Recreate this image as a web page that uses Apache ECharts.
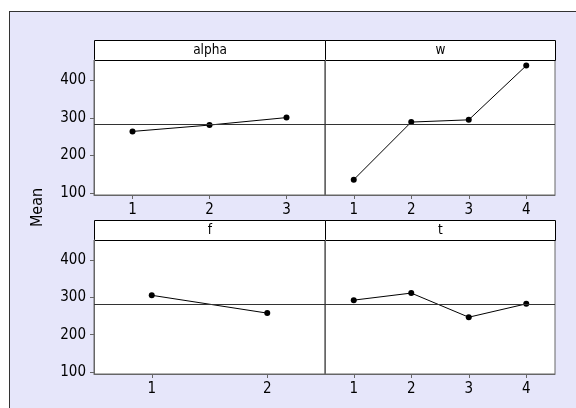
<!DOCTYPE html>
<html>
<head>
<meta charset="utf-8">
<script src="https://cdn.jsdelivr.net/npm/echarts@6/dist/echarts.min.js"></script>
<style>
html,body{margin:0;padding:0;background:#fff;overflow:hidden;}
#wrap{position:relative;width:576px;height:408px;overflow:hidden;background:#fff;}
#bg{position:absolute;left:9px;top:11px;width:620px;height:450px;background:#e6e6fa;border:1px solid #333;box-sizing:border-box;}
#chart{position:absolute;left:0;top:0;width:576px;height:408px;}
</style>
</head>
<body>
<div id="wrap"><div id="bg"></div><div id="chart"></div></div>
<script>
// ---- data ----
const panelTitles = ['alpha', 'w', 'f', 't'];
const alphaLevels = ['1', '2', '3'];
const alphaMeans = [264, 281, 301];
const wLevels = ['1', '2', '3', '4'];
const wMeans = [135, 289, 295, 440];
const fLevels = ['1', '2'];
const fMeans = [306, 258];
const tLevels = ['1', '2', '3', '4'];
const tMeans = [293, 312, 247, 283];
const grandMean = 282;
const yTickValues = [100, 200, 300, 400];
const yAxisTitle = 'Mean';

// ---- layout ----
const FONT = '"DejaVu Sans Condensed", "DejaVu Sans", sans-serif';
const panels = [
  {levels: alphaLevels, means: alphaMeans, left: 94, top: 60, width: 231, height: 135, showY: true},
  {levels: wLevels, means: wMeans, left: 325, top: 60, width: 230, height: 135, showY: false},
  {levels: fLevels, means: fMeans, left: 94, top: 240, width: 231, height: 134, showY: true},
  {levels: tLevels, means: tMeans, left: 325, top: 240, width: 230, height: 134, showY: false}
];

const grids = [], xAxes = [], yAxes = [], series = [], graphics = [];
panels.forEach((p, i) => {
  grids.push({left: p.left, top: p.top, width: p.width, height: p.height,
    show: true, backgroundColor: '#fff', borderColor: '#666', borderWidth: 1});
  xAxes.push({type: 'category', gridIndex: i, data: p.levels, boundaryGap: true,
    axisLine: {show: true, lineStyle: {color: '#666', width: 1}},
    axisTick: {show: true, alignWithLabel: true, length: 4, lineStyle: {color: '#666'}},
    axisLabel: {color: '#000', fontSize: 15, fontFamily: FONT, margin: 8},
    splitLine: {show: false}});
  yAxes.push({type: 'value', gridIndex: i, min: 94, max: 455,
    axisLine: {show: true, lineStyle: {color: '#666', width: 1}},
    axisTick: {show: p.showY, length: 4, customValues: yTickValues, lineStyle: {color: '#666'}},
    axisLabel: {show: p.showY, customValues: yTickValues, color: '#000', fontSize: 15, fontFamily: FONT, margin: 8},
    splitLine: {show: false}});
  series.push({type: 'line', xAxisIndex: i, yAxisIndex: i, data: p.means,
    symbol: 'circle', symbolSize: 6, itemStyle: {color: '#000'},
    lineStyle: {color: '#000', width: 1}, animation: false, silent: true,
    markLine: {silent: true, symbol: ['none', 'none'], label: {show: false},
      lineStyle: {color: '#333', type: 'solid', width: 1},
      data: [{yAxis: grandMean}]}});
  graphics.push({type: 'rect', shape: {x: p.left + 0.5, y: p.top - 19.5, width: p.width, height: 20},
    style: {fill: '#fff', stroke: '#000', lineWidth: 1},
    textContent: {style: {text: panelTitles[i], font: '13.5px ' + FONT, fill: '#000'}},
    textConfig: {position: 'inside'}});
});
graphics.push({type: 'text', x: 37.5, y: 207.5, rotation: Math.PI / 2,
  style: {text: yAxisTitle, font: '16px ' + FONT, fill: '#000', align: 'center', verticalAlign: 'middle'}});

const chart = echarts.init(document.getElementById('chart'), null, {renderer: 'canvas'});
chart.setOption({
  backgroundColor: 'transparent',
  animation: false,
  grid: grids, xAxis: xAxes, yAxis: yAxes, series: series,
  graphic: graphics
});
</script>
</body>
</html>
